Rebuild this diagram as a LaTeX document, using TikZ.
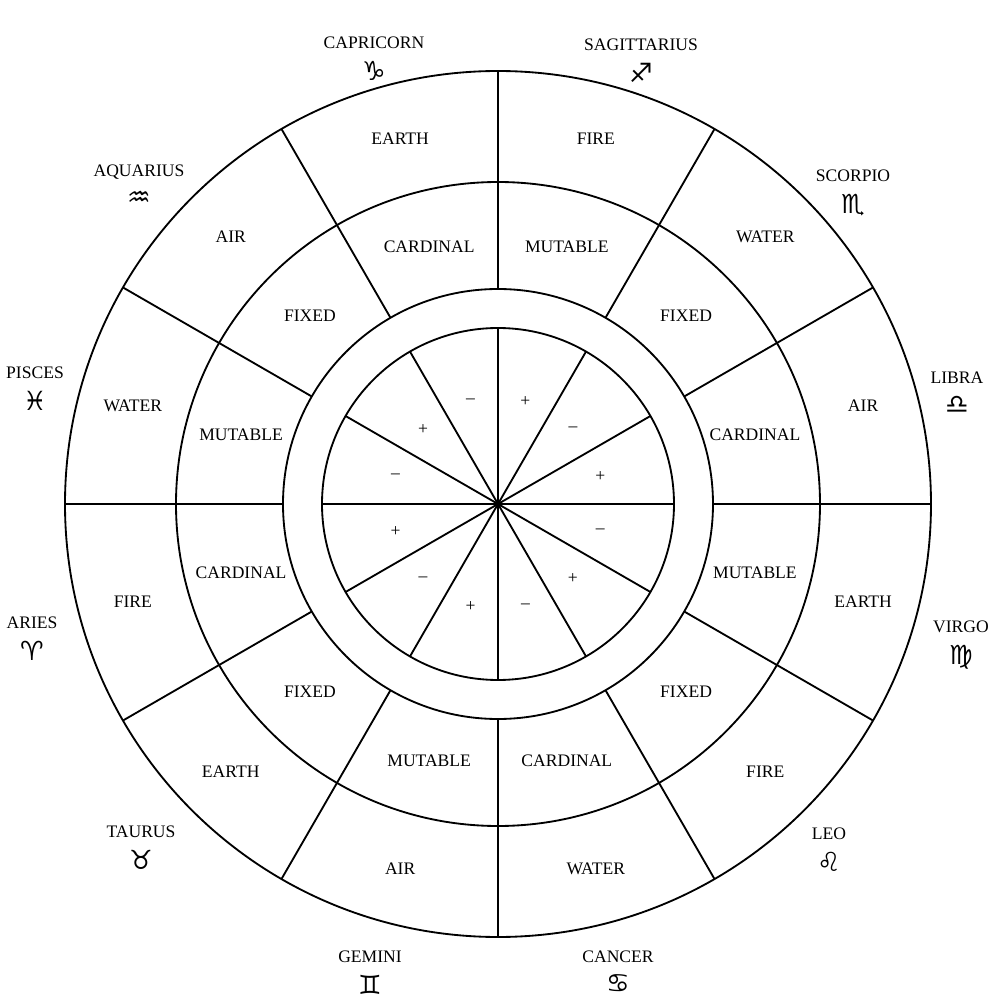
\documentclass[tikz,border=0pt]{standalone}
\usepackage{fontspec}
\setmainfont{Liberation Serif}
\newfontfamily\zodiacfont{DejaVu Sans}
\usetikzlibrary{positioning}

\begin{document}
\begin{tikzpicture}[line width=1.05pt,
        ringlabel/.style={font=\fontsize{10}{12}\selectfont},
        polarity/.style={font=\fontsize{10}{11}\selectfont},
        signname/.style={font=\fontsize{10}{12}\selectfont},
        signglyph/.style={font=\zodiacfont\fontsize{15}{16}\selectfont, inner sep=0pt}]
        \useasboundingbox (-9.96,-9.98) rectangle (10.04,10.08);
        \coordinate (O) at (0, 0);
        \draw (O) circle (8.66);
        \draw (O) circle (6.44);
        \draw (O) circle (4.30);
        \draw (O) circle (3.52);
        \foreach \a in {0,30,...,330} {
            \draw (\a:4.30) -- (\a:8.66);
            \draw (O) -- (\a:3.52);
        }
        \fill[black] (O) circle (1.5pt);

        \foreach \el/\md/\pm [count=\i] in {AIR/CARDINAL/+, WATER/FIXED/\textendash, FIRE/MUTABLE/+, EARTH/CARDINAL/\textendash, AIR/FIXED/+, WATER/MUTABLE/\textendash, FIRE/CARDINAL/+, EARTH/FIXED/\textendash, AIR/MUTABLE/+, WATER/CARDINAL/\textendash, FIRE/FIXED/+, EARTH/MUTABLE/\textendash} {
            \node[ringlabel] (el\i) at ({30*\i-15}:7.56) {\el};
            \node[ringlabel] (md\i) at ({30*\i-15}:5.32) {\md};
            \node[polarity] (pm\i) at ({30*\i-15}:2.12) {\pm};
        }

        \foreach \nm/\gl/\x/\y [count=\i] in {CAPRICORN/♑/-2.48/9.22, SAGITTARIUS/♐/2.86/9.18, SCORPIO/♏/7.10/6.56, LIBRA/♎/9.18/2.52, VIRGO/♍/9.26/-2.46, LEO/♌/6.62/-6.60, CANCER/♋/2.40/-9.06, GEMINI/♊/-2.56/-9.06, TAURUS/♉/-7.14/-6.56, ARIES/♈/-9.32/-2.38, PISCES/♓/-9.26/2.62, AQUARIUS/♒/-7.18/6.64} {
            \node[signname] (z\i) at (\x,\y) {\nm};
            \node[signglyph, below=2.5pt of z\i] (g\i) {\gl};
        }
\end{tikzpicture}
\end{document}
